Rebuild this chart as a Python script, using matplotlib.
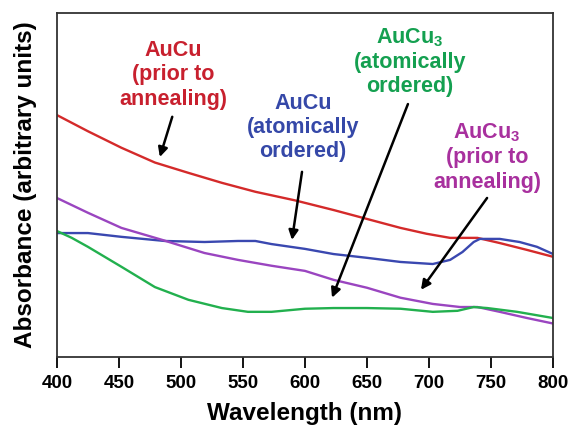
import matplotlib
matplotlib.use("Agg")
from matplotlib import pyplot as plt

plt.rcParams['font.family'] = ['Liberation Sans', 'DejaVu Sans']
plt.rcParams['font.weight'] = 'bold'
plt.rcParams['mathtext.fontset'] = 'custom'
plt.rcParams['mathtext.rm'] = 'Liberation Sans'
plt.rcParams['mathtext.bf'] = 'Liberation Sans:bold'

# Absorbance spectra, arbitrary units.
wl_red = [400, 425, 452, 479, 506, 533, 560, 592, 623, 650, 677, 698, 717,
          739, 757, 779, 800]
abs_red = [0.703, 0.656, 0.608, 0.565, 0.535, 0.506, 0.480, 0.455, 0.427,
           0.401, 0.375, 0.358, 0.346, 0.346, 0.331, 0.311, 0.291]

wl_blue = [400, 425, 452, 487, 519, 546, 560, 573, 600, 623, 650, 677, 703,
           717, 727, 736, 741, 757, 773, 787, 800]
abs_blue = [0.360, 0.360, 0.349, 0.337, 0.334, 0.337, 0.337, 0.328, 0.314,
            0.299, 0.288, 0.276, 0.270, 0.282, 0.305, 0.334, 0.343, 0.343,
            0.334, 0.320, 0.299]

wl_purple = [400, 425, 452, 485, 519, 546, 573, 600, 623, 650, 677, 703, 725,
             739, 757, 779, 800]
abs_purple = [0.462, 0.419, 0.375, 0.340, 0.302, 0.282, 0.265, 0.250, 0.224,
              0.201, 0.172, 0.154, 0.145, 0.145, 0.131, 0.113, 0.097]

wl_green = [400, 412, 425, 452, 479, 506, 533, 554, 573, 600, 623, 650, 677,
            703, 723, 736, 747, 771, 800]
abs_green = [0.366, 0.346, 0.320, 0.262, 0.203, 0.166, 0.142, 0.131, 0.131,
             0.140, 0.142, 0.142, 0.140, 0.131, 0.134, 0.145, 0.142, 0.131,
             0.113]

xticks = [400, 450, 500, 550, 600, 650, 700, 750, 800]

fig = plt.figure(figsize=(5.69, 4.30), dpi=100)
ax = fig.add_axes([0.100, 0.170, 0.872, 0.800])

ax.plot(wl_red, abs_red, color='#d42a2a', lw=1.7)
ax.plot(wl_blue, abs_blue, color='#3a48b0', lw=1.7)
ax.plot(wl_purple, abs_purple, color='#9a45c0', lw=1.7)
ax.plot(wl_green, abs_green, color='#22b04e', lw=1.7)

# Labels with arrows.
arrow = dict(arrowstyle='-|>', color='black', lw=1.8, mutation_scale=14,
             shrinkA=0, shrinkB=0)
ax.annotate('', xy=(483, 0.581), xytext=(493, 0.698), arrowprops=arrow)
ax.annotate('', xy=(589.5, 0.340), xytext=(597.6, 0.538), arrowprops=arrow)
ax.annotate('', xy=(621.8, 0.172), xytext=(683, 0.735), arrowprops=arrow)
ax.annotate('', xy=(693.5, 0.195), xytext=(746.8, 0.462), arrowprops=arrow)

tkw = dict(ha='center', va='center', fontsize=15.5, fontweight='bold',
           linespacing=1.2)
ax.text(493.5, 0.820, 'AuCu\n(prior to\nannealing)', color='#c8202e', **tkw)
ax.text(598.4, 0.666, 'AuCu\n(atomically\nordered)', color='#3548a8', **tkw)
ax.text(684.7, 0.858, 'AuCu$_\\mathbf{3}$\n(atomically\nordered)', color='#14a050', **tkw)
ax.text(746.8, 0.581, 'AuCu$_\\mathbf{3}$\n(prior to\nannealing)', color='#a8309e', **tkw)

ax.set_xlim(400, 800)
ax.set_ylim(0, 1)
ax.set_xticks(xticks)
ax.set_yticks([])
ax.tick_params(axis='x', direction='out', length=8, width=1.3, labelsize=13.5, pad=5)
for lab in ax.get_xticklabels():
    lab.set_fontweight('bold')
for sp in ax.spines.values():
    sp.set_linewidth(1.3)
    sp.set_color('#333333')

ax.set_xlabel('Wavelength (nm)', fontsize=17.5, fontweight='bold', labelpad=7)
ax.set_ylabel('Absorbance (arbitrary units)', fontsize=17.5, fontweight='bold', labelpad=14)

fig.savefig('out.png', dpi=100)
